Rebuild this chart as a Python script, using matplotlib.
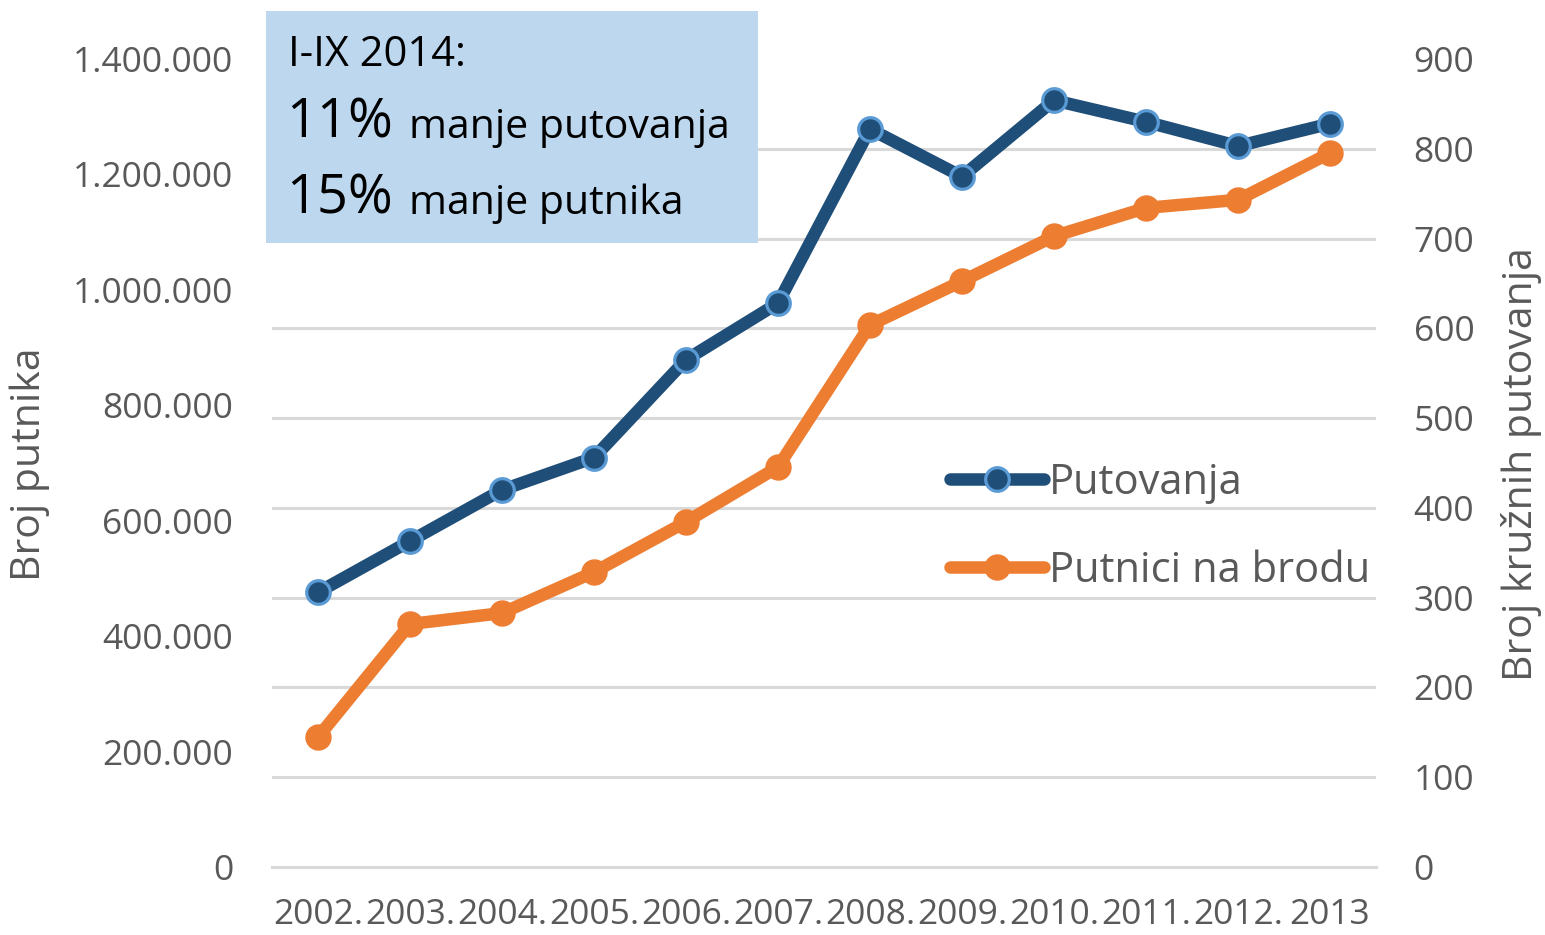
import matplotlib
matplotlib.use("Agg")
import matplotlib.pyplot as plt
from matplotlib.patches import Rectangle
from matplotlib.lines import Line2D
from matplotlib.ticker import FixedLocator, FuncFormatter

plt.rcParams['font.family'] = ['Open Sans', 'DejaVu Sans']

years = ["2002.", "2003.", "2004.", "2005.", "2006.", "2007.", "2008.",
         "2009.", "2010.", "2011.", "2012.", "2013"]
putnici = [225000, 421000, 440000, 511000, 598000, 693000, 939000,
           1015000, 1093000, 1142000, 1156000, 1237000]
putovanja = [306, 363, 420, 456, 565, 628, 822, 769, 854, 830, 803, 828]

left_ticks = [0, 200000, 400000, 600000, 800000, 1000000, 1200000, 1400000]
right_ticks = [0, 100, 200, 300, 400, 500, 600, 700, 800, 900]

BLUE = "#1F4E79"
BLUE_EDGE = "#5B9BD5"
ORANGE = "#ED7D31"
GRAY = "#595959"
GRID = "#D9D9D9"

W, H = 1545, 935
fig = plt.figure(figsize=(W / 100, H / 100), dpi=100)
ax = fig.add_axes([272 / W, 1 - 867 / H, (1376 - 272) / W, (867 - 59) / H])
ax2 = ax.twinx()

x = list(range(len(years)))
ax.set_xlim(-0.5, len(years) - 0.5)
ax.set_ylim(0, 1400000)
ax2.set_ylim(0, 900)

# gridlines aligned with right-axis ticks, drawn on the left axis (below lines)
ax.yaxis.set_minor_locator(FixedLocator([v * 1400000 / 900 for v in right_ticks]))
ax.grid(which='minor', axis='y', color=GRID, linewidth=2.2)
ax.tick_params(which='minor', length=0)
ax.set_axisbelow(True)
ax.axhline(0, color=GRID, linewidth=2.2, clip_on=False, zorder=0.5)

ax.plot(x, putnici, color=ORANGE, linewidth=9, marker='o', markersize=18,
        markerfacecolor=ORANGE, markeredgecolor=ORANGE, solid_capstyle='round',
        solid_joinstyle='round', zorder=3)
ax2.plot(x, putovanja, color=BLUE, linewidth=9, marker='o', markersize=17,
         markerfacecolor=BLUE, markeredgecolor=BLUE_EDGE, markeredgewidth=2.3,
         solid_capstyle='round', solid_joinstyle='round', zorder=3)

fmt = FuncFormatter(lambda v, p: f"{int(v):,}".replace(",", "."))
ax.set_yticks(left_ticks)
ax.yaxis.set_major_formatter(fmt)
ax2.set_yticks(right_ticks)
ax.set_xticks(x)
ax.set_xticklabels(years)

ax.tick_params(axis='y', length=0, pad=28, labelsize=25.5, labelcolor=GRAY)
ax2.tick_params(axis='y', length=0, pad=27, labelsize=25.5, labelcolor=GRAY)
ax.tick_params(axis='x', length=0, pad=22, labelsize=25.5, labelcolor=GRAY)

for a in (ax, ax2):
    for s in a.spines.values():
        s.set_visible(False)
ax2.patch.set_visible(False)

fig.text(30 / W, 1 - 464 / H, "Broj putnika", rotation=90, ha='center',
         va='center', fontsize=29.5, color=GRAY)
fig.text(1522 / W, 1 - 464 / H, "Broj kružnih putovanja", rotation=90,
         ha='center', va='center', fontsize=29.5, color=GRAY)

# legend
handles = [
    Line2D([], [], color=BLUE, linewidth=9, marker='o', markersize=17,
           markerfacecolor=BLUE, markeredgecolor=BLUE_EDGE, markeredgewidth=2.3,
           solid_capstyle='round'),
    Line2D([], [], color=ORANGE, linewidth=9, marker='o', markersize=18,
           markerfacecolor=ORANGE, markeredgecolor=ORANGE, solid_capstyle='round'),
]
leg = fig.legend(handles, ["Putovanja", "Putnici na brodu"], loc='upper left',
                 bbox_to_anchor=(950 / W, 1 - 462 / H), frameon=False,
                 fontsize=30, handlelength=2.25, handletextpad=0.12,
                 labelspacing=1.1, borderpad=0, borderaxespad=0)
for t in leg.get_texts():
    t.set_color(GRAY)

# annotation box
fig.patches.append(Rectangle((266 / W, 1 - 243 / H), (758 - 266) / W,
                             (243 - 11) / H, transform=fig.transFigure,
                             facecolor="#BDD7EE", edgecolor='none', zorder=5))
fig.text(288 / W, 1 - 66 / H, "I-IX 2014:", fontsize=30, color='black',
         va='baseline', ha='left', zorder=6)
fig.text(286 / W, 1 - 138 / H, "11%", fontsize=39, color='black',
         va='baseline', ha='left', zorder=6)
fig.text(409 / W, 1 - 138 / H, "manje putovanja", fontsize=29.5, color='black',
         va='baseline', ha='left', zorder=6)
fig.text(286 / W, 1 - 214 / H, "15%", fontsize=39, color='black',
         va='baseline', ha='left', zorder=6)
fig.text(409 / W, 1 - 214 / H, "manje putnika", fontsize=29.5, color='black',
         va='baseline', ha='left', zorder=6)

fig.savefig("out.png", dpi=100)
